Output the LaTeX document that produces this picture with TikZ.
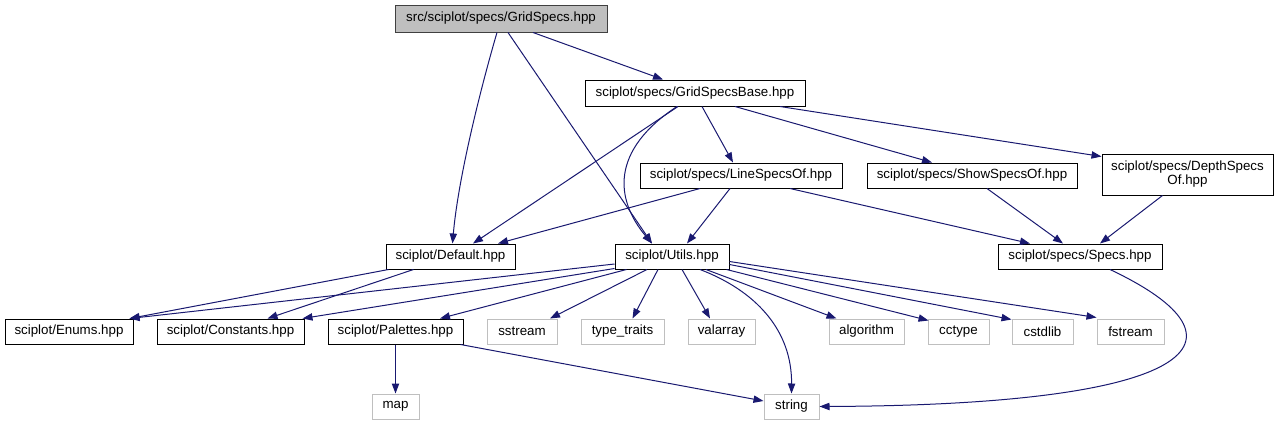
\documentclass[tikz,border=0pt]{standalone}
\usepackage{fontspec}
\setmainfont{Liberation Sans}
\usetikzlibrary{arrows.meta,calc}
\definecolor{edgeblue}{HTML}{191970}
\definecolor{rootfill}{HTML}{BFBFBF}
\definecolor{rootborder}{HTML}{404040}
\definecolor{sysgray}{HTML}{BFBFBF}
\begin{document}
\begin{tikzpicture}[x=0.75pt,y=-0.75pt,
  box/.style={draw=black, line width=0.75pt, inner sep=0pt, font=\fontsize{10}{10.5}\selectfont, align=center},
  sys/.style={box, draw=sysgray},
  root/.style={box, draw=rootborder, fill=rootfill},
  bw/.style={minimum width=#1*0.75pt},
  bh/.style={minimum height=#1*0.75pt},
  edge/.style={draw=edgeblue, line width=0.75pt, -{Triangle[length=7.5pt,width=5.5pt]}},
]
\useasboundingbox (0,0) rectangle (1282,425);
% nodes
\node[root,bw=212,bh=27] (gs) at (501,18.5) {src/sciplot/specs/GridSpecs.hpp};
\node[box,bw=220,bh=26] (gsb) at (695,93) {sciplot/specs/GridSpecsBase.hpp};
\node[box,bw=202,bh=25] (lso) at (741,175.5) {sciplot/specs/LineSpecsOf.hpp};
\node[box,bw=210,bh=25] (sso) at (972,175.5) {sciplot/specs/ShowSpecsOf.hpp};
\node[box,bw=171,bh=41] (dso) at (1187.5,174.5) {sciplot/specs/DepthSpecs\\Of.hpp};
\node[box,bw=129,bh=25] (def) at (450.5,256.5) {sciplot/Default.hpp};
\node[box,bw=114,bh=25] (utl) at (672,256.5) {sciplot/Utils.hpp};
\node[box,bw=164,bh=25] (spc) at (1080,256.5) {sciplot/specs/Specs.hpp};
\node[box,bw=128,bh=25] (enu) at (69,331.5) {sciplot/Enums.hpp};
\node[box,bw=147,bh=25] (con) at (230.5,331.5) {sciplot/Constants.hpp};
\node[box,bw=135,bh=25] (pal) at (395.5,331.5) {sciplot/Palettes.hpp};
\node[sys,bw=70,bh=25] (sst) at (522,331.5) {sstream};
\node[sys,bw=83,bh=25] (tt) at (622.5,331.5) {type\_traits};
\node[sys,bw=67,bh=25] (val) at (721.5,331.5) {valarray};
\node[sys,bw=75,bh=25] (alg) at (866.5,331.5) {algorithm};
\node[sys,bw=61,bh=25] (cct) at (958.5,331.5) {cctype};
\node[sys,bw=61,bh=25] (csl) at (1042.5,331.5) {cstdlib};
\node[sys,bw=67,bh=25] (fst) at (1130.5,331.5) {fstream};
\node[sys,bw=47,bh=25] (map) at (395.5,406.5) {map};
\node[sys,bw=55,bh=25] (str) at (791.5,406.5) {string};
% edges
\draw[edge] ($(gs.south)+(32,0)$) -- ($(gsb.north)+(-32,0)$);
\draw[edge] ($(gs.south)+(-4,0)$) .. controls ($(gs.south)+(-21,58)$) and ($(def.north)+(7.5,-64)$) .. ($(def.north)+(2,0)$);
\draw[edge] ($(gs.south)+(7,0)$) -- ($(utl.north)+(-20,0)$);
\draw[edge] ($(gsb.south)+(-17,0)$) -- ($(def.north)+(22.5,0)$);
\draw[edge] ($(gsb.south)+(-18,0)$) .. controls ($(gsb.south)+(-85,44)$) and ($(utl.north)+(-57,-44)$) .. ($(utl.north)+(-20,0)$);
\draw[edge] ($(gsb.south)+(7,0)$) -- ($(lso.north)+(-8,0)$);
\draw[edge] ($(gsb.south)+(40,0)$) -- ($(sso.north)+(-40,0)$);
\draw[edge] ($(gsb.south)+(85,0)$) -- ($(dso.north west)+(0,3)$);
\draw[edge] ($(lso.south)+(-41,0)$) -- ($(def.north)+(47.5,0)$);
\draw[edge] ($(lso.south)+(-11,0)$) -- ($(utl.north)+(15,0)$);
\draw[edge] ($(lso.south)+(49,0)$) -- ($(spc.north)+(-50,0)$);
\draw[edge] ($(sso.south)+(15,0)$) -- ($(spc.north)+(-17,0)$);
\draw[edge] ($(dso.south)+(-25,0)$) -- ($(spc.north)+(20,0)$);
\draw[edge] ($(def.south west)+(3,0)$) -- ($(enu.north east)+(-4,0)$);
\draw[edge] ($(def.south)+(-37,0)$) -- ($(con.north)+(37,0)$);
\draw[edge] ($(utl.west)+(0,7.5)$) -- ($(enu.north east)+(-4,0)$);
\draw[edge] ($(utl.south west)+(0,-1)$) -- ($(con.north east)+(-2,0)$);
\draw[edge] ($(utl.south west)+(12,0)$) -- ($(pal.north)+(44.5,0)$);
\draw[edge] ($(utl.south)+(-25,0)$) -- ($(sst.north)+(28,0)$);
\draw[edge] ($(utl.south)+(-14,0)$) -- ($(tt.north)+(10,0)$);
\draw[edge] ($(utl.south)+(10,0)$) -- ($(val.north)+(-11.5,0)$);
\draw[edge] ($(utl.south)+(28,0)$) .. controls ($(utl.south)+(83,21)$) and ($(str.north)+(0.5,-64)$) .. (str.north);
\draw[edge] ($(utl.south)+(34,0)$) -- ($(alg.north west)+(8,0)$);
\draw[edge] ($(utl.south east)+(-3,0)$) -- ($(cct.north west)+(1,2)$);
\draw[edge] ($(utl.east)+(0,8)$) -- ($(csl.north west)+(0,1)$);
\draw[edge] ($(utl.east)+(0,5)$) -- ($(fst.north west)+(0,-1)$);
\draw[edge] (pal.south) -- (map.north);
\draw[edge] ($(pal.south east)+(-3,0)$) -- ($(str.west)+(0,-5.5)$);
\draw[edge] ($(spc.south)+(30,0)$) .. controls ($(spc.south)+(180,71)$) and ($(str.east)+(381,-1.5)$) .. (str.east);
\end{tikzpicture}
\end{document}
